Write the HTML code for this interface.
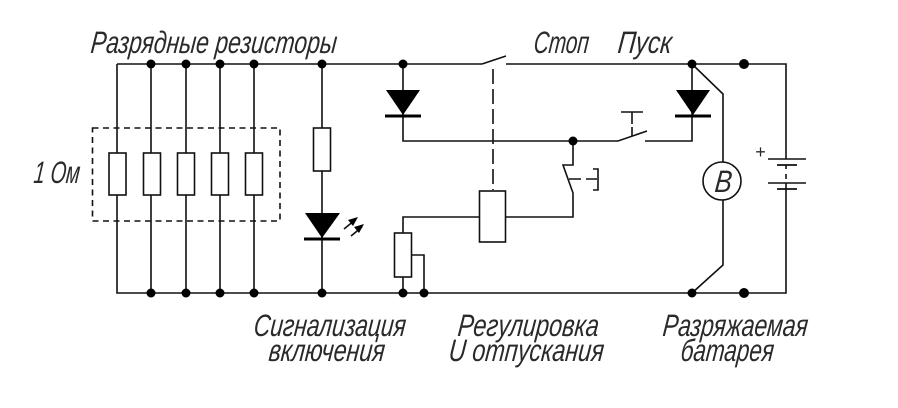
<!DOCTYPE html>
<html>
<head>
<meta charset="utf-8">
<style>
html,body{margin:0;padding:0;background:#fff;width:898px;height:408px;overflow:hidden}
svg{display:block}
text{font-family:"Liberation Sans",sans-serif;font-style:italic;font-size:31px;fill:#2a2a2a}
</style>
</head>
<body>
<svg width="898" height="408" viewBox="0 0 898 408" xmlns="http://www.w3.org/2000/svg">
<g fill="none" stroke="#111" stroke-width="1.6">
  <!-- rails -->
  <path d="M117 64H482M506 64H786V159M786 189V293H117V64"/>
  <!-- resistor columns -->
  <path d="M151 64V293M186 64V293M220 64V293M254 64V293"/>
  <path d="M322 64V128M322 171V293"/>
  <!-- stop switch -->
  <path d="M482 64L506 56"/>
  <path d="M493 69V190" stroke-dasharray="15 5"/>
  <!-- left diode branch -->
  <path d="M403 64V141H618L647 131M645 141H692V64"/>
  <!-- push button -->
  <path d="M621 112H643M632 112V124M632 127V136"/>
  <!-- relay branch -->
  <path d="M573 141V165H563L573 193V217H506M479 217H403V233M403 277V293"/>
  <path d="M569 179H581M586 179H597"/>
  <path d="M593 169H598V190H593"/>
  <path d="M412 255H424V293"/>
  <!-- V meter branch -->
  <path d="M692 64L723 94V162M723 200V265L692 293"/>
  <circle cx="722" cy="181" r="19" fill="#fff"/>
  <!-- dashed box -->
  <rect x="92.500" y="128" width="187.500" height="93" stroke-dasharray="6 4.500"/>
  <!-- resistors -->
  <g fill="#fff">
    <rect x="109" y="153" width="17" height="42"/>
    <rect x="143.500" y="153" width="17" height="42"/>
    <rect x="177.500" y="153" width="17" height="42"/>
    <rect x="211.500" y="153" width="17" height="42"/>
    <rect x="245.500" y="153" width="17" height="42"/>
    <rect x="313.500" y="128" width="17" height="43"/>
    <rect x="394.500" y="233" width="17" height="44"/>
    <rect x="479.500" y="191" width="26" height="51"/>
  </g>
  <!-- battery -->
  <path d="M768 159H806M768 183H806"/>
  <path d="M777 165H797M777 189H797" stroke-width="1.8"/>
  <path d="M786 165V169M786 174V179M786 183V189"/>
  <!-- LED arrow shafts -->
  <path d="M344 229L355 220M351 236L362 227"/>
</g>
<!-- diodes -->
<g fill="#000">
  <polygon points="386,90 420,90 403,115"/>
  <rect x="385" y="114.500" width="36" height="3"/>
  <polygon points="676,90 710,90 693,115"/>
  <rect x="675" y="114.500" width="36" height="3"/>
  <polygon points="305,213 340,213 322,238"/>
  <rect x="304" y="237.500" width="36" height="3"/>
  <polygon points="358,217 353,226 348,220"/>
  <polygon points="364,224 359,233 354,227"/>
</g>
<!-- junctions -->
<g fill="#000">
  <circle cx="151" cy="64" r="4.500"/><circle cx="186" cy="64" r="4.500"/><circle cx="220" cy="64" r="4.500"/><circle cx="254" cy="64" r="4.500"/>
  <circle cx="322" cy="64" r="4.500"/><circle cx="403" cy="64" r="4.500"/><circle cx="692" cy="64" r="4.500"/><circle cx="744" cy="64" r="5"/>
  <circle cx="151" cy="293" r="4.500"/><circle cx="186" cy="293" r="4.500"/><circle cx="220" cy="293" r="4.500"/><circle cx="254" cy="293" r="4.500"/>
  <circle cx="322" cy="293" r="4.500"/><circle cx="403" cy="293" r="4.500"/><circle cx="424" cy="293" r="4.500"/><circle cx="692" cy="293" r="4.500"/><circle cx="744" cy="293" r="5"/>
  <circle cx="573" cy="141" r="4.500"/>
</g>
<!-- labels -->
<text transform="translate(90,53) skewX(-6)" textLength="246" lengthAdjust="spacingAndGlyphs">Разрядные резисторы</text>
<text transform="translate(533,53) skewX(-6)" textLength="55" lengthAdjust="spacingAndGlyphs">Стоп</text>
<text transform="translate(617,53) skewX(-6)" textLength="54" lengthAdjust="spacingAndGlyphs">Пуск</text>
<text transform="translate(33,183) skewX(-6)" textLength="46" lengthAdjust="spacingAndGlyphs">1 Ом</text>
<text transform="translate(714,192) skewX(-6)" textLength="17" lengthAdjust="spacingAndGlyphs">В</text>
<text x="755" y="158" style="font-size:18px">+</text>
<text transform="translate(253,336) skewX(-6)" textLength="152" lengthAdjust="spacingAndGlyphs">Сигнализация</text>
<text transform="translate(268,361) skewX(-6)" textLength="116" lengthAdjust="spacingAndGlyphs">включения</text>
<text transform="translate(457,336) skewX(-6)" textLength="141" lengthAdjust="spacingAndGlyphs">Регулировка</text>
<text transform="translate(448,361) skewX(-6)" textLength="155" lengthAdjust="spacingAndGlyphs">U отпускания</text>
<text transform="translate(662,336) skewX(-6)" textLength="145" lengthAdjust="spacingAndGlyphs">Разряжаемая</text>
<text transform="translate(680,361) skewX(-6)" textLength="93" lengthAdjust="spacingAndGlyphs">батарея</text>
</svg>
</body>
</html>
